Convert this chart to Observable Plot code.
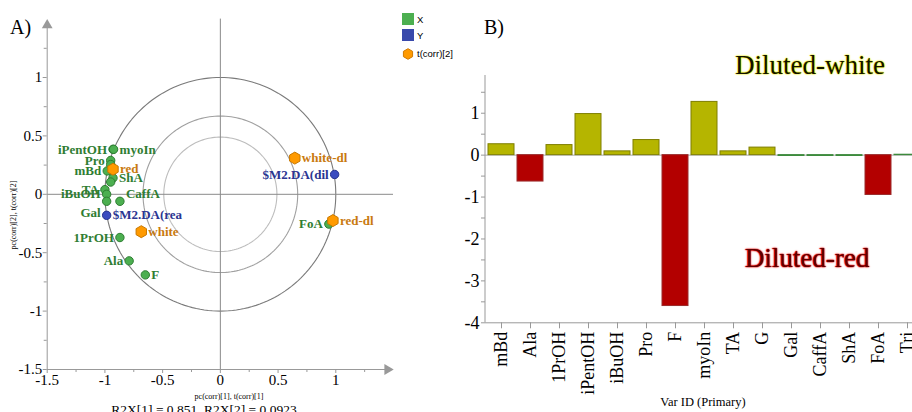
<!DOCTYPE html>
<html><head><meta charset="utf-8">
<script src="https://cdn.jsdelivr.net/npm/d3@7"></script>
<script src="https://cdn.jsdelivr.net/npm/@observablehq/plot@0.6"></script>
<style>
html,body{margin:0;padding:0;background:#fff;overflow:hidden}
#wrap{position:relative;width:912px;height:412px;overflow:hidden;font-family:"Liberation Serif",serif;background:#fff}
#wrap svg{position:absolute;top:0}
.t{position:absolute;white-space:nowrap;line-height:1}
</style></head><body><div id="wrap"></div>
<script>
// ---------- Panel A data (loadings / scores, pc(corr)) ----------
const xVarNames = ["iPentOH","myoIn","Pro","G","mBd","ShA","Tri","TA","iBuOH","Gal","CaffA","1PrOH","Ala","F","FoA"];
const xVarPc1   = [-0.93, -0.925, -0.95, -0.95, -0.98, -0.93, -0.95, -1.0, -0.985, -0.985, -0.87, -0.87, -0.79, -0.65, 0.94];
const xVarPc2   = [0.385, 0.385, 0.29, 0.255, 0.20, 0.14, 0.105, 0.04, 0.0, -0.06, -0.06, -0.37, -0.57, -0.69, -0.255];
const xVarLabelSide = ["left","right","left","","left","right","","left","left","left","right","left","left","right","left"];

const yVarNames = ["$M2.DA(rea", "$M2.DA(dil"];
const yVarPc1   = [-0.985, 0.99];
const yVarPc2   = [-0.18, 0.17];
const yVarLabelSide = ["right","left"];

const tNames = ["red","white","white-dl","red-dl"];
const tPc1   = [-0.93, -0.685, 0.645, 0.975];
const tPc2   = [0.215, -0.32, 0.31, -0.225];

const circleRadii = [1, 0.67, 0.49];
const majorTicksA = [-1.5, -1, -0.5, 0, 0.5, 1];

// ---------- Panel B data (bar chart) ----------
const barNames  = ["mBd","Ala","1PrOH","iPentOH","iBuOH","Pro","F","myoIn","TA","G","Gal","CaffA","ShA","FoA","Tri"];
const barValues = [0.26, -0.63, 0.24, 0.98, 0.09, 0.36, -3.6, 1.27, 0.09, 0.18, -0.02, -0.02, -0.02, -0.95, 0.01];
const majorTicksB = [-4, -3, -2, -1, 0, 1];

// ---------- build tables ----------
const xPts = xVarNames.map((n, i) => ({name: n, x: xVarPc1[i], y: xVarPc2[i], side: xVarLabelSide[i]}));
const yPts = yVarNames.map((n, i) => ({name: n, x: yVarPc1[i], y: yVarPc2[i], side: yVarLabelSide[i]}));
const tPts = tNames.map((n, i) => ({name: n, x: tPc1[i], y: tPc2[i]}));
const bars = barNames.map((n, i) => ({name: n, value: barValues[i]}));
// label displacement (as the original software moved colliding labels)
const labelShift = {"Gal": -0.095, "CaffA": 0.06};

const circlePath = r => d3.range(0, 361, 2).map(a => ({x: r * Math.cos(a * Math.PI / 180), y: r * Math.sin(a * Math.PI / 180)}));
const circleColors = ["#7a7a7a", "#a0a0a0", "#bdbdbd"];
const minor = ticks => ticks.slice(0, -1).map((t, i) => (t + ticks[i + 1]) / 2).concat([ticks[ticks.length - 1] + (ticks[1] - ticks[0]) / 2]);
const fmt = d => String(d);

const GREEN = "#2f7d32", BLUE = "#2a3592", ORANGE = "#c97a10";
const labelY = d => d.y + (labelShift[d.name] || 0);
const labelMarks = (pts, color) => [
  Plot.text(pts.filter(d => d.side === "left"), {x: "x", y: labelY, text: "name", textAnchor: "end", dx: -6,
    fill: color, fontWeight: "bold", fontSize: 13}),
  Plot.text(pts.filter(d => d.side === "right"), {x: "x", y: labelY, text: "name", textAnchor: "start", dx: 6,
    fill: color, fontWeight: "bold", fontSize: 13})
];

const left = Plot.plot({
  width: 440, height: 412,
  marginLeft: 46.7, marginRight: 47, marginTop: 18.6, marginBottom: 43,
  x: {domain: [-1.5, 1.5], axis: null},
  y: {domain: [-1.5, 1.5], axis: null},
  style: {fontFamily: "Liberation Serif", background: "transparent", overflow: "visible", color: "#000"},
  marks: [
    ...circleRadii.map((r, i) => Plot.line(circlePath(r), {x: "x", y: "y", stroke: circleColors[i], strokeWidth: 1.1})),
    Plot.ruleX([0], {y1: -1.5, y2: 1.5, stroke: "#8a8a8a"}),
    Plot.ruleY([0], {x1: -1.5, x2: 1.5, stroke: "#8a8a8a"}),
    Plot.ruleY([-1.5], {x1: -1.5, x2: 1.46, stroke: "#999"}),
    Plot.ruleX([-1.5], {y1: -1.5, y2: 1.46, stroke: "#999"}),
    Plot.dot([{x: 1.5, y: -1.5}], {x: "x", y: "y", symbol: "triangle", rotate: 90, r: 4, fill: "#999", stroke: "none", dx: -6}),
    Plot.dot([{x: -1.5, y: 1.5}], {x: "x", y: "y", symbol: "triangle", r: 4, fill: "#999", stroke: "none", dy: 6}),
    Plot.axisX({ticks: majorTicksA, tickFormat: fmt, tickSize: 4, tickPadding: 1, fontSize: 15, stroke: "#999", fill: "#000", label: null}),
    Plot.axisX({ticks: minor(majorTicksA), text: null, tickSize: 3, stroke: "#999", label: null}),
    Plot.axisY({ticks: majorTicksA, tickFormat: fmt, tickSize: 4, tickPadding: 1, fontSize: 15, stroke: "#999", fill: "#000", label: null}),
    Plot.axisY({ticks: minor(majorTicksA), text: null, tickSize: 3, stroke: "#999", label: null}),
    Plot.dot(xPts, {x: "x", y: "y", r: 4.2, fill: "#4caf50", stroke: "#2e7d32", strokeWidth: 1}),
    Plot.dot(yPts, {x: "x", y: "y", r: 4.2, fill: "#3b4cc0", stroke: "#26338f", strokeWidth: 1}),
    Plot.dot(tPts, {x: "x", y: "y", symbol: "hexagon", r: 5.2, fill: "#ff9a00", stroke: "#c87800", strokeWidth: 1}),
    ...labelMarks(xPts, GREEN),
    ...labelMarks(yPts, BLUE),
    Plot.text(tPts, {x: "x", y: "y", text: "name", textAnchor: "start", dx: 7, fill: ORANGE, fontWeight: "bold", fontSize: 13})
  ]
});
left.style.left = "0px";

const barFill = v => v > 0.05 ? "#b5b500" : v < -0.05 ? "#b30000" : "#3c9a3c";
const barStroke = v => v > 0.05 ? "#7f7f00" : v < -0.05 ? "#9a2b2b" : "#3c8a3c";

const right = Plot.plot({
  width: 490, height: 412,
  marginLeft: 45, marginRight: 7, marginTop: 75, marginBottom: 89.7,
  x: {domain: barNames, paddingInner: 0.12, paddingOuter: 0.06, axis: null},
  y: {domain: [-4, 1.9], axis: null},
  style: {fontFamily: "Liberation Serif", background: "transparent", overflow: "visible", color: "#000"},
  marks: [
    Plot.ruleY([0], {stroke: "#a8a8a8"}),
    Plot.barY(bars, {x: "name", y: "value", fill: d => barFill(d.value), stroke: d => barStroke(d.value), strokeWidth: 1}),
    Plot.ruleY([-4], {stroke: "#999"}),
    (index, scales, values, dim) => {
      const l = d3.create("svg:line")
        .attr("x1", dim.marginLeft).attr("x2", dim.marginLeft)
        .attr("y1", dim.marginTop).attr("y2", dim.height - dim.marginBottom)
        .attr("stroke", "#999");
      return l.node();
    },
    Plot.axisY({ticks: majorTicksB, tickFormat: fmt, tickSize: 4, tickPadding: 2, fontSize: 18, stroke: "#999", fill: "#000", label: null}),
    Plot.axisY({ticks: minor(majorTicksB).filter(t => t < 1.9), text: null, tickSize: 4, stroke: "#999", label: null}),
    Plot.axisX({tickRotate: -90, tickSize: 6, tickPadding: 3, fontSize: 18, stroke: "#999", fill: "#000", label: null})
  ]
});
right.style.left = "440px";

const wrap = document.getElementById("wrap");
wrap.appendChild(left);
wrap.appendChild(right);

// ---------- HTML text overlays ----------
function addText(txt, {x, baseline, size, anchor = "start", family = "Liberation Serif", color = "#000", weight = "normal", shadow = null}) {
  const d = document.createElement("div");
  d.className = "t";
  d.textContent = txt;
  d.style.fontFamily = `"${family}"`;
  d.style.fontSize = size + "px";
  d.style.color = color;
  d.style.fontWeight = weight;
  d.style.left = x + "px";
  d.style.top = (baseline - 0.8375 * size) + "px";
  d.style.transform = anchor === "middle" ? "translateX(-50%)" : anchor === "end" ? "translateX(-100%)" : "";
  if (shadow) d.style.textShadow = shadow;
  wrap.appendChild(d);
  return d;
}
addText("A)", {x: 10, baseline: 34, size: 20});
addText("B)", {x: 484, baseline: 34, size: 20});
addText("pc(corr)[1], t(corr)[1]", {x: 229, baseline: 399.5, size: 8, anchor: "middle"});
addText("R2X[1] = 0.851, R2X[2] = 0.0923", {x: 204, baseline: 414.5, size: 13.5, anchor: "middle"});
addText("Var ID (Primary)", {x: 703, baseline: 406, size: 12.5, anchor: "middle"});
addText("Diluted-white", {x: 810, baseline: 75, size: 27, anchor: "middle", color: "#111100",
  shadow: "0 0 1px #f2f200, 0 0 1px #f2f200, 0 0 2px #e0e000"});
addText("Diluted-red", {x: 807, baseline: 268, size: 27, anchor: "middle", color: "#5e0000",
  shadow: "0 0 1px #ff0000, 0 0 1px #ff0000, 0 0 2px #d00000"});

// rotated y title (panel A)
const yt = document.createElement("div");
yt.className = "t";
yt.textContent = "pc(corr)[2], t(corr)[2]";
yt.style.fontFamily = '"Liberation Serif"';
yt.style.fontSize = "8px";
yt.style.left = "14px";
yt.style.top = "215px";
yt.style.transform = "translate(-50%,-50%) rotate(-90deg)";
wrap.appendChild(yt);

// legend (panel A)
const legendItems = [{label: "X", color: "#4caf50", shape: "square"}, {label: "Y", color: "#3949ab", shape: "square"}, {label: "t(corr)[2]", color: "#ff9a00", shape: "hex"}];
legendItems.forEach((it, i) => {
  const cy = 19 + i * 16.3;
  if (it.shape === "square") {
    const s = document.createElement("div");
    s.style.cssText = `position:absolute;left:402px;top:${cy - 6}px;width:12px;height:12px;background:${it.color}`;
    wrap.appendChild(s);
  } else {
    const s = document.createElementNS("http://www.w3.org/2000/svg", "svg");
    s.setAttribute("width", 14); s.setAttribute("height", 14);
    s.style.cssText = `position:absolute;left:401px;top:${cy + 2 - 7}px`;
    const p = document.createElementNS("http://www.w3.org/2000/svg", "path");
    const hex = d3.range(6).map(k => [7 + 5.3 * Math.cos((k * 60 + 30) * Math.PI / 180), 7 + 5.3 * Math.sin((k * 60 + 30) * Math.PI / 180)]);
    p.setAttribute("d", "M" + hex.join("L") + "Z");
    p.setAttribute("fill", it.color); p.setAttribute("stroke", "#d07a00");
    s.appendChild(p);
    wrap.appendChild(s);
  }
  addText(it.label, {x: 417, baseline: (it.shape === "hex" ? cy + 2 : cy) + 3.5, size: 9.5, family: "Liberation Sans"});
});
</script></body></html>
